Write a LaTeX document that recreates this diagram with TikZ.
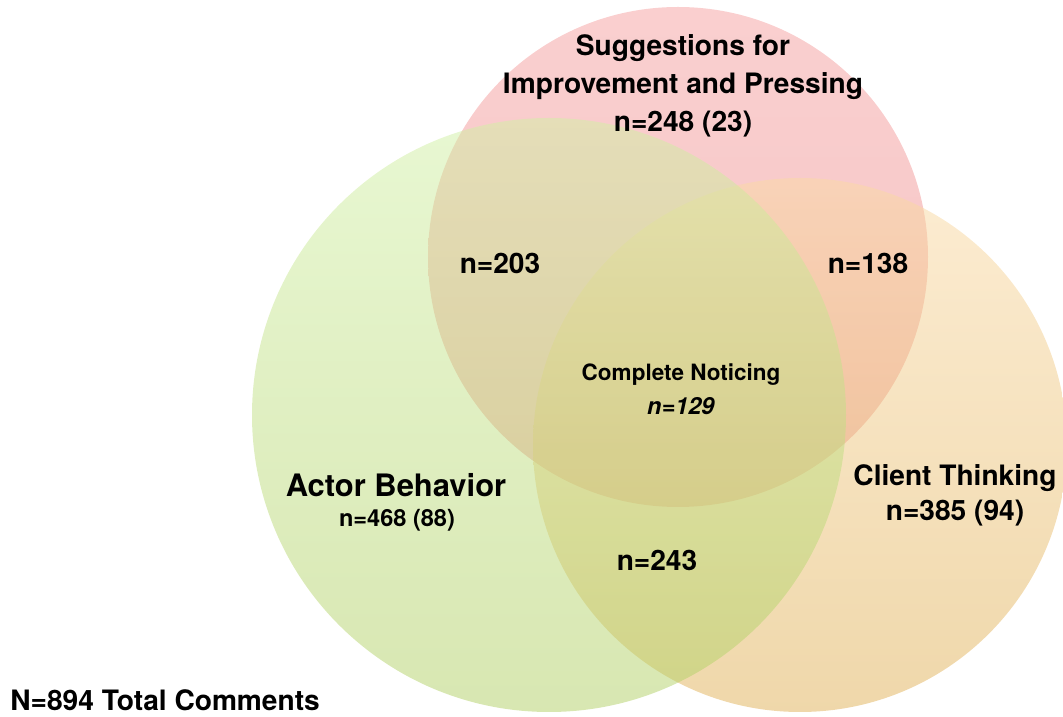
\documentclass[tikz,border=0pt]{standalone}
\usepackage{fontspec}
\setmainfont{TeX Gyre Heros}
\usepackage{tikz}
\usetikzlibrary{positioning}
\definecolor{sugtop}{RGB}{245,160,160}
\definecolor{sugbot}{RGB}{236,135,135}
\definecolor{acttop}{RGB}{209,240,165}
\definecolor{actbot}{RGB}{177,207,100}
\definecolor{clitop}{RGB}{250,218,165}
\definecolor{clibot}{RGB}{224,176,85}
\tikzset{
  setfill/.style={fill opacity=.5, draw=none},
  lbl/.style={font=\bfseries\fontsize{16}{21.5}\selectfont, inner sep=0pt, align=center},
  biglbl/.style={font=\bfseries\fontsize{17.6}{21}\selectfont, inner sep=0pt},
  smalllbl/.style={font=\bfseries\fontsize{13.4}{19.3}\selectfont, inner sep=0pt, align=center}
}

\begin{document}
\begin{tikzpicture}
    \useasboundingbox (0,0) rectangle (21.26,14.34);

    % the three sets
    \shade[setfill, top color=sugtop, bottom color=sugbot] (13.56,9.2) circle (5);
    \shade[setfill, top color=clitop, bottom color=clibot] (16,5.44) circle (5.34);
    \shade[setfill, top color=acttop, bottom color=actbot] (10.98,6.04) circle (5.94);

    % set names
    \node[lbl] (sug) at (13.66,12.62) {Suggestions for\\Improvement and Pressing\\n=248 (23)};
    \node[biglbl] (act) at (7.92,4.64) {Actor Behavior};
    \node[smalllbl] (actn) at (7.94,3.94) {n=468 (88)};
    \node[lbl] (cli) at (19.1,4.78) {Client Thinking};
    \node[lbl] (clin) at (19.1,4.08) {n=385 (94)};

    % overlaps
    \node[lbl] (sugact) at (10.0,9.08) {n=203};
    \node[lbl] (sugcli) at (17.36,9.08) {n=138};
    \node[lbl] (actcli) at (13.14,3.14) {n=243};
    \node[smalllbl] (all) at (13.62,6.56) {\fontsize{12.8}{19.3}\selectfont Complete Noticing\\\textit{n=129}};

    \node[lbl, anchor=west] (total) at (0.2,0.34) {N=894 Total Comments};
\end{tikzpicture}
\end{document}
